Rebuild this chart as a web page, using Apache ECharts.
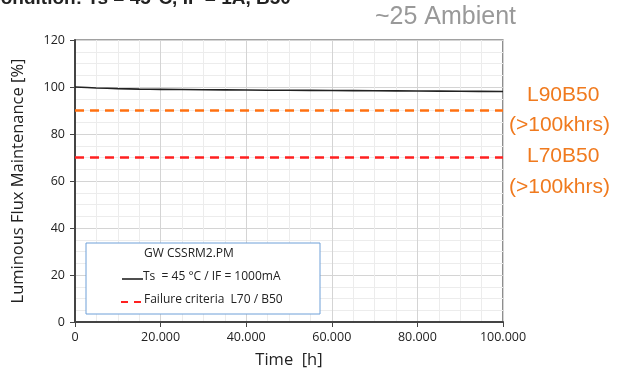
<!DOCTYPE html>
<html>
<head>
<meta charset="utf-8">
<script src="https://cdn.jsdelivr.net/npm/echarts@6/dist/echarts.min.js"></script>
<style>html,body{margin:0;padding:0;background:#fff}#c{width:618px;height:374px}</style>
</head>
<body>
<div id="c"></div>
<script>
var timeHours = [0, 5000, 10000, 15000, 20000, 30000, 40000, 50000, 60000, 70000, 80000, 90000, 100000];
var fluxMaintenance = [100, 99.6, 99.3, 99.1, 99.0, 98.85, 98.7, 98.6, 98.5, 98.4, 98.3, 98.2, 98.1];
var thresholdTimes = [0, 100000];
var l90Values = [90, 90];
var l70Values = [70, 70];
var xTickLabels = {0: '0', 20000: '20.000', 40000: '40.000', 60000: '60.000', 80000: '80.000', 100000: '100.000'};
var seriesNames = ['Ts  = 45 °C / IF = 1000mA', 'Failure criteria  L70 / B50', 'L90B50'];
var legendTitle = 'GW CSSRM2.PM';
var annotations = ['L90B50', '(>100khrs)', 'L70B50', '(>100khrs)'];

function pairs(xs, ys) { return xs.map(function (x, i) { return [x, ys[i]]; }); }

var chart = echarts.init(document.getElementById('c'), null, {renderer: 'canvas'});
var font = '"Open Sans", "Liberation Sans", sans-serif';
var afont = 'Arial, "Liberation Sans", sans-serif';
var orange = '#f07a1e';
chart.setOption({
  animation: false,
  grid: {left: 75, right: 115, top: 40, bottom: 52, show: true, borderColor: '#444', borderWidth: 1.2},
  xAxis: {
    type: 'value', min: 0, max: 100000, interval: 20000,
    axisLine: {show: true, lineStyle: {color: '#444', width: 2}},
    axisTick: {show: true, length: 5, lineStyle: {color: '#444'}},
    axisLabel: {color: '#222', fontSize: 12.5, fontFamily: font, margin: 9,
      formatter: function (v) { return xTickLabels[v] !== undefined ? xTickLabels[v] : ''; }},
    splitLine: {show: true, lineStyle: {color: '#d4d4d4', width: 1}},
    minorTick: {show: true, splitNumber: 4, length: 0},
    minorSplitLine: {show: true, lineStyle: {color: '#ececec', width: 1}},
    name: 'Time  [h]', nameLocation: 'middle', nameGap: 30,
    nameTextStyle: {color: '#222', fontSize: 16.5, fontFamily: font}
  },
  yAxis: {
    type: 'value', min: 0, max: 120, interval: 20,
    axisLine: {show: true, lineStyle: {color: '#444', width: 2}},
    axisTick: {show: true, length: 5, lineStyle: {color: '#444'}},
    axisLabel: {color: '#222', fontSize: 12.5, fontFamily: font, margin: 10},
    splitLine: {show: true, lineStyle: {color: '#d4d4d4', width: 1}},
    minorTick: {show: true, splitNumber: 4, length: 0},
    minorSplitLine: {show: true, lineStyle: {color: '#ececec', width: 1}},
    name: 'Luminous Flux Maintenance [%]', nameLocation: 'middle', nameGap: 48,
    nameTextStyle: {color: '#222', fontSize: 16.5, fontFamily: font}
  },
  series: [
    {name: seriesNames[0], type: 'line', data: pairs(timeHours, fluxMaintenance), showSymbol: false, smooth: 0.3,
      lineStyle: {color: '#222', width: 1.6}, z: 5},
    {name: seriesNames[1], type: 'line', data: pairs(thresholdTimes, l70Values), showSymbol: false,
      lineStyle: {color: '#ff2020', width: 2.5, type: [9, 6]}, z: 4},
    {name: seriesNames[2], type: 'line', data: pairs(thresholdTimes, l90Values), showSymbol: false,
      lineStyle: {color: '#ff7010', width: 2.5, type: [9, 6]}, z: 4}
  ],
  graphic: [
    {type: 'text', left: -13, top: -11, style: {text: 'Condition: Ts = 45°C, IF = 1A, B50', fill: '#222', font: 'bold 19px ' + afont}},
    {type: 'text', left: 375, top: 5, style: {text: '~25 Ambient', fill: '#999', font: '25px ' + afont}},
    {type: 'text', left: 527, top: 85, style: {text: annotations[0], fill: orange, font: '21px ' + afont}},
    {type: 'text', left: 509, top: 115, style: {text: annotations[1], fill: orange, font: '21px ' + afont}},
    {type: 'text', left: 527, top: 146, style: {text: annotations[2], fill: orange, font: '21px ' + afont}},
    {type: 'text', left: 509, top: 177, style: {text: annotations[3], fill: orange, font: '21px ' + afont}},
    {type: 'rect', shape: {x: 86, y: 243, width: 234, height: 71}, style: {fill: '#fff', stroke: '#6fa0d8', lineWidth: 1}, z: 10},
    {type: 'text', left: 144, top: 248, z: 11, style: {text: legendTitle, fill: '#222', font: '12px ' + font}},
    {type: 'line', shape: {x1: 122, y1: 279, x2: 143, y2: 279}, style: {stroke: '#222', lineWidth: 1.6}, z: 11},
    {type: 'text', left: 143, top: 271, z: 11, style: {text: seriesNames[0], fill: '#222', font: '12px ' + font}},
    {type: 'line', shape: {x1: 121, y1: 302, x2: 143, y2: 302}, style: {stroke: '#ff2020', lineWidth: 2.2, lineDash: [7, 6]}, z: 11},
    {type: 'text', left: 144, top: 294, z: 11, style: {text: seriesNames[1], fill: '#222', font: '12px ' + font}}
  ]
});
</script>
</body>
</html>
